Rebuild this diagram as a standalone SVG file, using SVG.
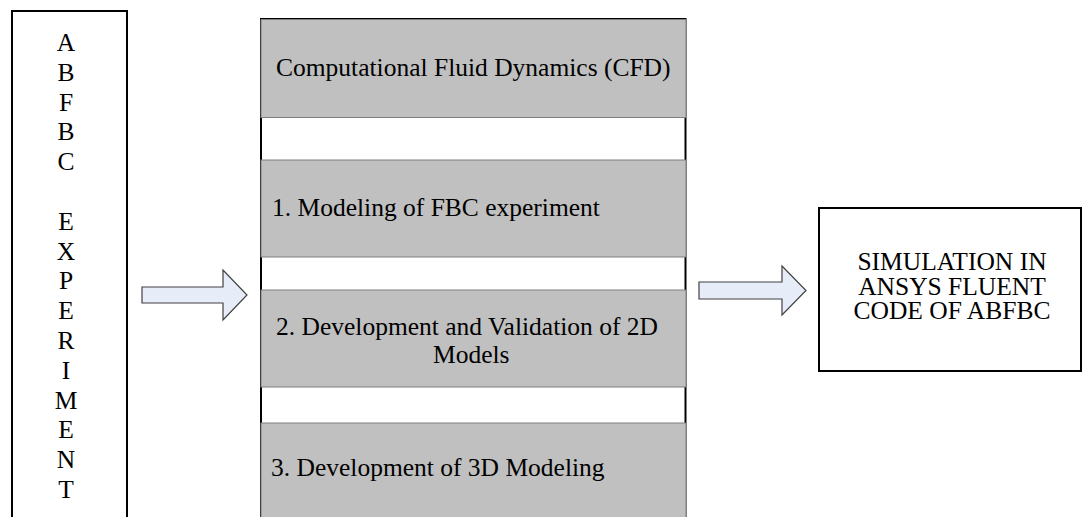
<svg xmlns="http://www.w3.org/2000/svg" width="1084" height="517" viewBox="0 0 1084 517">
  <style>
    .t { font-family: "Liberation Serif", "Times New Roman", serif; font-size: 25.5px; fill: #000; }
    .box { fill: #fff; stroke: #000; stroke-width: 2; }
    .band { fill: #c0c0c0; stroke: #7f7f7f; stroke-width: 1; }
    .arrow { fill: #e6edf8; stroke: #404040; stroke-width: 1.2; }
  </style>
  <rect width="1084" height="517" fill="#fff"/>

  <!-- Left column: vertical title -->
  <g id="experiment">
    <rect class="box" x="12" y="11" width="115" height="520"/>
    <g class="t" text-anchor="middle">
      <text x="66" y="51">A</text>
      <text x="66" y="80.8">B</text>
      <text x="66" y="110.6">F</text>
      <text x="66" y="140.4">B</text>
      <text x="66" y="170.2">C</text>
      <text x="66" y="229.8">E</text>
      <text x="66" y="259.6">X</text>
      <text x="66" y="289.4">P</text>
      <text x="66" y="319.2">E</text>
      <text x="66" y="349">R</text>
      <text x="66" y="378.8">I</text>
      <text x="66" y="408.6">M</text>
      <text x="66" y="438.4">E</text>
      <text x="66" y="468.2">N</text>
      <text x="66" y="498">T</text>
    </g>
  </g>

  <!-- Middle column: CFD stages -->
  <g id="cfd">
    <rect x="261" y="19" width="424.5" height="510" fill="#fff" stroke="#000" stroke-width="2"/>
    <rect class="band" x="261" y="19.5" width="425" height="98"/>
    <rect class="band" x="261" y="160" width="425" height="97"/>
    <rect class="band" x="261" y="290" width="425" height="97"/>
    <rect class="band" x="261" y="423" width="425" height="100"/>
    <g class="t" xml:space="preserve">
      <text x="276" y="76">Computational Fluid Dynamics (CFD)</text>
      <text x="272" y="216">1.  Modeling of FBC experiment</text>
      <text x="276" y="335">2.  Development and Validation of 2D</text>
      <text x="433" y="363">Models</text>
      <text x="271" y="476">3. Development of 3D Modeling</text>
    </g>
  </g>

  <!-- Right column: simulation -->
  <g id="simulation">
    <rect class="box" x="819" y="208" width="262" height="163"/>
    <g class="t" text-anchor="middle">
      <text x="952" y="270">SIMULATION IN</text>
      <text x="952" y="294.5">ANSYS FLUENT</text>
      <text x="952" y="319">CODE OF ABFBC</text>
    </g>
  </g>

  <!-- Block arrows between columns -->
  <g id="connectors">
    <polygon class="arrow" points="142,287 223,287 223,270 247,295 223,320 223,303 142,303"/>
    <polygon class="arrow" points="699,282 782,282 782,266 806,290.5 782,315 782,299 699,299"/>
  </g>
</svg>
